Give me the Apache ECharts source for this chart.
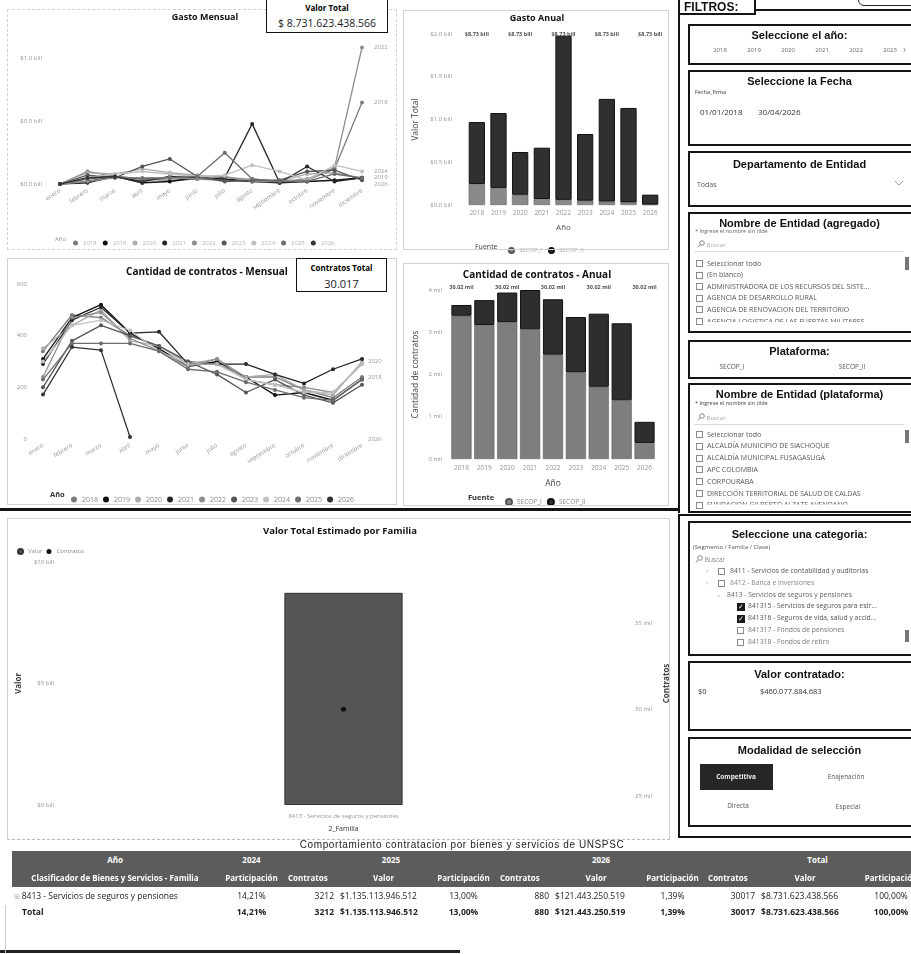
<!DOCTYPE html>
<html><head><meta charset="utf-8">
<script src="https://cdn.jsdelivr.net/npm/echarts@6/dist/echarts.min.js"></script>
<style>
html,body{margin:0;padding:0;background:#fff;}
#page{position:relative;width:911px;height:954px;overflow:hidden;font-family:"Open Sans","DejaVu Sans",sans-serif;background:#fff;}
#chart{position:absolute;left:0;top:0;width:911px;height:954px;}
.t{position:absolute;white-space:nowrap;line-height:1;}
.c{transform:translateX(-50%);}
.frame{position:absolute;border:1px solid #d2d2d2;box-sizing:border-box;}
.box{position:absolute;border:2px solid #151515;box-sizing:border-box;}
.ft{position:absolute;left:0;right:0;text-align:center;font-family:"Liberation Sans",Arial,sans-serif;font-weight:bold;font-size:11px;color:#111;white-space:nowrap;}
.li{position:absolute;font-size:7px;color:#555;white-space:nowrap;line-height:1;}
.cb{position:absolute;width:7px;height:7px;border:1px solid #8a8a8a;box-sizing:border-box;}
.cbk{position:absolute;width:8px;height:8px;background:#1a1a1a;color:#fff;font-size:7px;line-height:8px;text-align:center;}
.card{position:absolute;border:1.5px solid #111;box-sizing:border-box;background:#fff;text-align:center;}
table{border-collapse:collapse;table-layout:fixed;}
td,th{padding:0 3px;white-space:nowrap;overflow:hidden;}
th{background:#5c5c5c;color:#fff;font-weight:bold;font-size:8px;height:17px;}
td{font-size:8.5px;color:#222;height:16px;}
</style></head>
<body>
<div id="page">
<div id="chart"></div>
</div>
<script>
// ---------------- DATA ----------------
const MONTHS = ['enero','febrero','marzo','abril','mayo','junio','julio','agosto','septiembre','octubre','noviembre','diciembre'];
const YEARS = ['2018','2019','2020','2021','2022','2023','2024','2025','2026'];
const YEAR_COLORS = ['#7c7c7c','#111111','#acacac','#262626','#8e8e8e','#555555','#c0c0c0','#6d6d6d','#333333'];

// Gasto mensual (billones de pesos)
const GASTO_M_2018 = [0.00,0.10,0.06,0.04,0.03,0.04,0.03,0.02,0.02,0.03,0.12,0.65];
const GASTO_M_2019 = [0.00,0.01,0.06,0.01,0.02,0.05,0.04,0.02,0.01,0.02,0.03,0.05];
const GASTO_M_2020 = [0.00,0.09,0.08,0.12,0.09,0.07,0.05,0.04,0.02,0.08,0.09,0.04];
const GASTO_M_2021 = [0.00,0.02,0.06,0.02,0.06,0.05,0.05,0.48,0.01,0.14,0.02,0.05];
const GASTO_M_2022 = [0.00,0.02,0.05,0.05,0.05,0.04,0.06,0.02,0.02,0.04,0.13,1.09];
const GASTO_M_2023 = [0.00,0.07,0.05,0.14,0.20,0.06,0.02,0.03,0.03,0.10,0.11,0.03];
const GASTO_M_2024 = [0.00,0.05,0.08,0.10,0.08,0.06,0.07,0.15,0.10,0.03,0.15,0.10];
const GASTO_M_2025 = [0.00,0.04,0.06,0.04,0.05,0.06,0.25,0.04,0.02,0.02,0.08,0.05];
const GASTO_M_2026 = [0.00,0.05,0.06,0.01];
const GASTO_END_LABELS = ['2018','2019','2022','2024'];

// Cantidad de contratos mensual
const CONTRATOS_M_2018 = [340,480,470,400,360,300,290,240,240,190,160,240];
const CONTRATOS_M_2019 = [310,470,520,410,350,280,300,240,170,180,150,230];
const CONTRATOS_M_2020 = [350,440,500,380,360,290,310,240,250,190,170,300];
const CONTRATOS_M_2021 = [290,460,510,410,415,290,290,290,250,215,270,310];
const CONTRATOS_M_2022 = [240,470,490,390,340,280,310,230,210,200,180,290];
const CONTRATOS_M_2023 = [200,380,440,400,360,300,250,180,230,170,140,210];
const CONTRATOS_M_2024 = [300,440,460,420,340,290,290,230,210,180,180,290];
const CONTRATOS_M_2025 = [230,370,370,370,340,270,260,220,190,160,150,230];
const CONTRATOS_M_2026 = [172,356,344,8];
const CONTRATOS_END_LABELS = ['2018','2020'];

// Gasto anual por fuente (billones)
const FUENTES = ['SECOP_I','SECOP_II'];
const GASTO_ANUAL_SECOP_I  = [0.245,0.200,0.120,0.070,0.060,0.050,0.040,0.030,0.005];
const GASTO_ANUAL_SECOP_II = [0.725,0.875,0.500,0.600,1.920,0.780,1.201,1.105,0.116];
const GASTO_TOTAL_LABEL = '$8.73 bill';

// Contratos anual por fuente
const CONTRATOS_ANUAL_SECOP_I  = [3390,3170,3240,3070,2470,2050,1710,1390,380];
const CONTRATOS_ANUAL_SECOP_II = [255,590,700,930,1310,1310,1730,1822,500];
const CONTRATOS_TOTAL_LABEL = '30.02 mil';

// Valor total estimado por familia
const FAMILIAS = ['8413 - Servicios de seguros y pensiones'];
const FAMILIA_VALOR = [8.7316];       // billones
const FAMILIA_CONTRATOS = [30017];

// Tabla
const TABLE_ROW = ['8413 - Servicios de seguros y pensiones','14,21%','3212','$1.135.113.946.512','13,00%','880','$121.443.250.519','1,39%','30017','$8.731.623.438.566','100,00%'];
const TABLE_TOTAL = ['Total','14,21%','3212','$1.135.113.946.512','13,00%','880','$121.443.250.519','1,39%','30017','$8.731.623.438.566','100,00%'];

// ---------------- STATIC HTML ----------------
const page = document.getElementById('page');
function add(html){ page.insertAdjacentHTML('beforeend', html); }
const SEARCH = '<svg width="8" height="8" style="vertical-align:-1px"><circle cx="5" cy="3" r="2.3" fill="none" stroke="#777" stroke-width="0.9"/><line x1="3.3" y1="4.7" x2="0.8" y2="7.4" stroke="#777" stroke-width="0.9"/></svg>';

// chart frames
add('<div class="frame" style="left:7px;top:9px;width:390px;height:241px;border-style:dashed"></div>');
add('<div class="frame" style="left:403px;top:10px;width:266px;height:240px"></div>');
add('<div class="frame" style="left:7px;top:258px;width:390px;height:247px"></div>');
add('<div class="frame" style="left:403px;top:263px;width:266px;height:243px"></div>');
add('<div class="frame" style="left:7px;top:518px;width:663px;height:322px;border-bottom:1px dashed #bbb"></div>');
add('<div style="position:absolute;left:0;top:508px;width:680px;height:3px;background:#141414"></div>');
add('<div style="position:absolute;left:0;top:950px;width:460px;height:3px;background:#222"></div>');
add('<div style="position:absolute;left:5px;top:905px;width:1px;height:49px;background:#ccc"></div>');

// chart titles
add('<div class="t c" style="left:205px;top:12px;font-size:9px;font-weight:bold;color:#111">Gasto Mensual</div>');
add('<div class="t c" style="left:537px;top:13px;font-size:9px;font-weight:bold;color:#111">Gasto Anual</div>');
add('<div class="t c" style="left:207px;top:266px;font-size:10px;font-weight:bold;color:#111">Cantidad de contratos - Mensual</div>');
add('<div class="t c" style="left:537px;top:269px;font-size:10px;font-weight:bold;color:#111">Cantidad de contratos - Anual</div>');
add('<div class="t c" style="left:340px;top:526px;font-size:9.5px;font-weight:bold;color:#111">Valor Total Estimado por Familia</div>');

// cards
add('<div class="card" style="left:266px;top:-2px;width:122px;height:35px"><div style="font-size:8px;font-weight:bold;margin-top:3px">Valor Total</div><div style="font-size:10.5px;margin-top:3px;color:#222">$ 8.731.623.438.566</div></div>');
add('<div class="card" style="left:296px;top:258px;width:91px;height:34px"><div style="font-size:8px;font-weight:bold;margin-top:3px">Contratos Total</div><div style="font-size:11px;margin-top:3px;color:#222">30.017</div></div>');

// legend captions
add('<div class="t" style="left:55px;top:236px;font-size:6px;color:#999">Año</div>');
add('<div class="t" style="left:50px;top:491px;font-size:7.5px;font-weight:bold;color:#333">Año</div>');
add('<div class="t" style="left:475px;top:243px;font-size:7px;color:#444">Fuente</div>');
add('<div class="t" style="left:468px;top:494px;font-size:7.5px;font-weight:bold;color:#333">Fuente</div>');

// ----- filters panel -----
add('<div style="position:absolute;left:678px;top:-2px;width:78px;height:17px;border:2px solid #151515;box-sizing:border-box;background:#fff"></div>');
add('<div class="t" style="left:684px;top:1px;font-family:Liberation Sans,Arial;font-weight:bold;font-size:12px;color:#111">FILTROS:</div>');
add('<div style="position:absolute;left:756px;top:9px;width:160px;height:2px;background:#151515"></div>');
add('<div style="position:absolute;left:858px;top:-8px;width:60px;height:12px;border:1.5px solid #222;border-radius:6px"></div>');
add('<div style="position:absolute;left:678px;top:0;width:2px;height:513px;background:#151515"></div>');
add('<div style="position:absolute;left:678px;top:514px;width:240px;height:2px;background:#151515"></div>');
add('<div style="position:absolute;left:678px;top:514px;width:2px;height:324px;background:#151515"></div>');
add('<div style="position:absolute;left:678px;top:836px;width:240px;height:2px;background:#151515"></div>');

// box 1 year
add('<div class="box" style="left:688px;top:24px;width:230px;height:41px"><div class="ft" style="top:3px;right:7px">Seleccione el año:</div></div>');
['2018','2019','2020','2021','2022','2023'].forEach((y,i)=>add('<div class="t c" style="left:'+(720+i*34)+'px;top:47px;font-size:6px;color:#666">'+y+'</div>'));
add('<div class="t" style="left:903px;top:44px;font-size:10px;color:#888">›</div>');
// box 2 fecha
add('<div class="box" style="left:688px;top:70px;width:230px;height:76px"><div class="ft" style="top:3px;right:7px">Seleccione la Fecha</div></div>');
add('<div class="t" style="left:695px;top:90px;font-size:5.5px;color:#333">Fecha_firma</div>');
add('<div class="t" style="left:700px;top:108px;font-size:8px;color:#333">01/01/2018</div>');
add('<div class="t" style="left:758px;top:108px;font-size:8px;color:#333">30/04/2026</div>');
// box 3 departamento
add('<div class="box" style="left:688px;top:151px;width:230px;height:56px"><div class="ft" style="top:5px;right:7px">Departamento de Entidad</div></div>');
add('<div class="t" style="left:697px;top:181px;font-size:7px;color:#555">Todas</div>');
add('<svg style="position:absolute;left:894px;top:180px" width="10" height="6"><polyline points="1,1 5,5 9,1" fill="none" stroke="#999" stroke-width="1"/></svg>');
// box 4 entidad agregado
add('<div class="box" style="left:688px;top:212px;width:230px;height:121px"><div class="ft" style="top:3px;right:7px">Nombre de Entidad (agregado)</div></div>');
add('<div class="t" style="left:695px;top:229px;font-size:5.5px;color:#666">* Ingrese el nombre sin tilde</div>');
add('<div class="t" style="left:697px;top:240px;font-size:6px;color:#aaa">'+SEARCH+' Buscar</div>');
add('<div style="position:absolute;left:694px;top:251px;width:210px;height:1px;background:#ddd"></div>');
const ENT_AGR = ['Seleccionar todo','(En blanco)','ADMINISTRADORA DE LOS RECURSOS DEL SISTE...','AGENCIA DE DESARROLLO RURAL','AGENCIA DE RENOVACION DEL TERRITORIO','AGENCIA LOGISTICA DE LAS FUERZAS MILITARES'];
ENT_AGR.forEach((s,i)=>{const y=260+i*11.6; add('<div class="cb" style="left:696px;top:'+y+'px"></div><div class="li" style="left:707px;top:'+(y-0.5)+'px;'+(i==5?'clip-path:inset(0 0 35% 0)':'')+'">'+s+'</div>');});
add('<div style="position:absolute;left:905px;top:257px;width:4px;height:13px;background:#777"></div>');
// box 5 plataforma
add('<div class="box" style="left:688px;top:340px;width:230px;height:39px"><div class="ft" style="top:3px;right:7px">Plataforma:</div></div>');
add('<div class="t c" style="left:732px;top:364px;font-size:6.5px;color:#555">SECOP_I</div>');
add('<div class="t c" style="left:852px;top:364px;font-size:6.5px;color:#555">SECOP_II</div>');
// box 6 entidad plataforma
add('<div class="box" style="left:688px;top:383px;width:230px;height:130px"><div class="ft" style="top:3px;right:7px">Nombre de Entidad (plataforma)</div></div>');
add('<div class="t" style="left:695px;top:401px;font-size:5.5px;color:#444">* Ingrese el nombre sin tilde</div>');
add('<div class="t" style="left:697px;top:413px;font-size:6px;color:#aaa">'+SEARCH+' Buscar</div>');
add('<div style="position:absolute;left:694px;top:424px;width:210px;height:1px;background:#ddd"></div>');
const ENT_PLAT = ['Seleccionar todo','ALCALDÍA MUNICIPIO DE SIACHOQUE','ALCALDÍA MUNICIPAL FUSAGASUGÁ','APC COLOMBIA','CORPOURABA','DIRECCIÓN TERRITORIAL DE SALUD DE CALDAS','FUNDACIÓN GILBERTO ALZATE AVENDAÑO'];
ENT_PLAT.forEach((s,i)=>{const y=431+i*11.8; add('<div class="cb" style="left:696px;top:'+y+'px"></div><div class="li" style="left:707px;top:'+(y-0.5)+'px;'+(i==6?'clip-path:inset(0 0 55% 0)':'')+'">'+s+'</div>');});
add('<div style="position:absolute;left:905px;top:430px;width:4px;height:13px;background:#777"></div>');

// box 7 categoria
add('<div class="box" style="left:688px;top:521px;width:230px;height:135px"><div class="ft" style="top:5px;right:7px">Seleccione una categoria:</div></div>');
add('<div class="t" style="left:693px;top:544px;font-size:6px;color:#555">(Segmento / Familia / Clase)</div>');
add('<div class="t" style="left:695px;top:555px;font-size:6.5px;color:#888">'+SEARCH+' Buscar</div>');
const CAT_ITEMS = [
 {t:'8411 - Servicios de contabilidad y auditorias',arrow:706,cb:718,x:730,st:0,col:'#555'},
 {t:'8412 - Banca e inversiones',arrow:706,cb:718,x:730,st:0,col:'#888'},
 {t:'8413 - Servicios de seguros y pensiones',arrow:716,cb:null,x:727,st:0,col:'#666'},
 {t:'841315 - Servicios de seguros para estr...',arrow:null,cb:737,x:748,st:1,col:'#555'},
 {t:'841316 - Seguros de vida, salud y accid...',arrow:null,cb:737,x:748,st:1,col:'#555'},
 {t:'841317 - Fondos de pensiones',arrow:null,cb:737,x:748,st:0,col:'#777'},
 {t:'841318 - Fondos de retiro',arrow:null,cb:737,x:748,st:0,col:'#777'}];
CAT_ITEMS.forEach((it,i)=>{const y=568+i*11.8;
  if(it.arrow) add('<div class="t" style="left:'+it.arrow+'px;top:'+(y-1)+'px;font-size:7px;color:#aaa">'+(i==2?'⌄':'›')+'</div>');
  if(it.cb) add(it.st?'<div class="cbk" style="left:'+it.cb+'px;top:'+y+'px">✓</div>':'<div class="cb" style="left:'+it.cb+'px;top:'+y+'px"></div>');
  add('<div class="li" style="left:'+it.x+'px;top:'+y+'px;font-size:6.8px;color:'+it.col+'">'+it.t+'</div>');});
add('<div style="position:absolute;left:905px;top:630px;width:4px;height:12px;background:#777"></div>');
// box 8 valor contratado
add('<div class="box" style="left:688px;top:661px;width:230px;height:70px"><div class="ft" style="top:5px;right:7px">Valor contratado:</div></div>');
add('<div class="t" style="left:698px;top:688px;font-size:7.5px;color:#333">$0</div>');
add('<div class="t" style="left:760px;top:688px;font-size:7.5px;color:#333">$460.077.884.683</div>');
// box 9 modalidad
add('<div class="box" style="left:688px;top:737px;width:230px;height:90px"><div class="ft" style="top:5px;right:7px">Modalidad de selección</div></div>');
add('<div style="position:absolute;left:700px;top:764px;width:73px;height:26px;background:#262626"></div>');
add('<div class="t c" style="left:736px;top:774px;font-size:6.5px;color:#eee;font-weight:bold">Competitiva</div>');
add('<div class="t c" style="left:846px;top:774px;font-size:6.5px;color:#555">Enajenación</div>');
add('<div class="t c" style="left:738px;top:803px;font-size:6.5px;color:#555">Directa</div>');
add('<div class="t c" style="left:848px;top:804px;font-size:6.5px;color:#555">Especial</div>');

// table
add('<div class="t c" style="left:462px;top:840px;font-family:Liberation Sans,Arial;font-size:10px;letter-spacing:0.6px;color:#222">Comportamiento contratacion por bienes y servicios de UNSPSC</div>');
const COLW = [206,67,52,93,67,55,88,65,53,94,78];
let tbl = '<table style="position:absolute;left:12px;top:851px;width:'+COLW.reduce((a,b)=>a+b,0)+'px"><colgroup>'+COLW.map(w=>'<col style="width:'+w+'px">').join('')+'</colgroup>';
tbl += '<tr><th style="text-align:center">Año</th><th style="text-align:center">2024</th><th colspan="3" style="text-align:center">2025</th><th colspan="3" style="text-align:center">2026</th><th colspan="3" style="text-align:center">Total</th></tr>';
const HDR2 = ['Clasificador de Bienes y Servicios - Familia','Participación','Contratos','Valor','Participación','Contratos','Valor','Participación','Contratos','Valor','Participación'];
tbl += '<tr>'+HDR2.map((h,i)=>'<th style="height:19px;text-align:'+(i==2||i==5||i==8?'left':'center')+'">'+h+'</th>').join('')+'</tr>';
const align = i => (i==0?'left':(i==2||i==5||i==8?'right':(i==1||i==4||i==7||i==10?'center':'left')));
tbl += '<tr>'+TABLE_ROW.map((v,i)=>'<td style="text-align:'+align(i)+(i==0?';padding-left:2px':'')+'">'+(i==0?'<span style="color:#aaa;font-size:7px">⊞ </span>':'')+v+'</td>').join('')+'</tr>';
tbl += '<tr>'+TABLE_TOTAL.map((v,i)=>'<td style="font-weight:bold;text-align:'+align(i)+(i==0?';padding-left:10px':'')+'">'+v+'</td>').join('')+'</tr>';
tbl += '</table>';
add(tbl);

// ---------------- CHARTS ----------------
const chart = echarts.init(document.getElementById('chart'));
const FF = 'Open Sans';
const AXL = {fontFamily:FF, color:'#959595', fontSize:6};
const GASTO_M = [GASTO_M_2018,GASTO_M_2019,GASTO_M_2020,GASTO_M_2021,GASTO_M_2022,GASTO_M_2023,GASTO_M_2024,GASTO_M_2025,GASTO_M_2026];
const CONTRATOS_M = [CONTRATOS_M_2018,CONTRATOS_M_2019,CONTRATOS_M_2020,CONTRATOS_M_2021,CONTRATOS_M_2022,CONTRATOS_M_2023,CONTRATOS_M_2024,CONTRATOS_M_2025,CONTRATOS_M_2026];
const LAST_MONTH = MONTHS[MONTHS.length-1];

function monthlySeries(arrs, gi, endLabels, dist){
  return YEARS.map((y,i)=>{
    const s = {name:y, type:'line', xAxisIndex:gi, yAxisIndex:gi, data:arrs[i],
      symbol:'circle', symbolSize:4, color:YEAR_COLORS[i], lineStyle:{width:1.3},
      endLabel:{show:endLabels.includes(y), formatter:'{a}', fontFamily:FF, fontSize:6, color:'#9a9a9a', distance:dist}};
    if (arrs[i].length < MONTHS.length) {
      s.markPoint = {symbol:'circle', symbolSize:0, silent:true,
        data:[{coord:[LAST_MONTH,0], label:{show:true, formatter:y, position:'right', distance:dist, fontFamily:FF, fontSize:6, color:'#9a9a9a'}}]};
    }
    return s;
  });
}
const noAxisLine = {axisLine:{show:false}, axisTick:{show:false}, splitLine:{show:false}};

const option = {
  animation:false,
  textStyle:{fontFamily:FF},
  grid:[
    {left:60, top:40, width:302, height:144},
    {left:466, top:34, width:195, height:171},
    {left:43, top:284, width:319, height:155},
    {left:450, top:290, width:206, height:169},
    {left:62, top:562, width:563, height:243}
  ],
  xAxis:[
    Object.assign({gridIndex:0, type:'category', data:MONTHS, boundaryGap:false, axisLabel:Object.assign({rotate:35, interval:0, margin:6}, AXL)}, noAxisLine),
    Object.assign({gridIndex:1, type:'category', data:YEARS, axisLabel:Object.assign({interval:0, margin:5}, AXL, {fontSize:6.5}),
      name:'Año', nameLocation:'middle', nameGap:19, nameTextStyle:{fontSize:8, color:'#555', fontFamily:FF}}, noAxisLine),
    Object.assign({gridIndex:2, type:'category', data:MONTHS, boundaryGap:false, axisLabel:Object.assign({rotate:32, interval:0, margin:6}, AXL)}, noAxisLine),
    Object.assign({gridIndex:3, type:'category', data:YEARS, axisLabel:Object.assign({interval:0, margin:6}, AXL, {fontSize:6.5}),
      name:'Año', nameLocation:'middle', nameGap:20, nameTextStyle:{fontSize:8.5, color:'#444', fontFamily:FF}}, noAxisLine),
    Object.assign({gridIndex:4, type:'category', data:FAMILIAS, axisLabel:Object.assign({margin:8}, AXL),
      name:'2_Familia', nameLocation:'middle', nameGap:20, nameTextStyle:{fontSize:7, color:'#333', fontFamily:FF}}, noAxisLine)
  ],
  yAxis:[
    Object.assign({gridIndex:0, type:'value', min:0, max:1.15, interval:0.5,
      axisLabel:Object.assign({formatter:v=>'$'+v.toFixed(1)+' bill', showMaxLabel:false, margin:18}, AXL)}, noAxisLine),
    Object.assign({gridIndex:1, type:'value', min:0, max:2, interval:0.5,
      axisLabel:Object.assign({formatter:v=>'$'+v.toFixed(1)+' bill', margin:14}, AXL),
      name:'Valor Total', nameLocation:'middle', nameGap:46, nameTextStyle:{fontSize:8.5, color:'#444', fontFamily:FF}}, noAxisLine),
    Object.assign({gridIndex:2, type:'value', min:0, max:600, interval:200,
      axisLabel:Object.assign({margin:16}, AXL)}, noAxisLine),
    Object.assign({gridIndex:3, type:'value', min:0, max:4000, interval:1000,
      axisLabel:Object.assign({formatter:v=>(v/1000)+' mil', margin:8}, AXL),
      name:'Cantidad de contratos', nameLocation:'middle', nameGap:30, nameTextStyle:{fontSize:8.5, color:'#444', fontFamily:FF}}, noAxisLine),
    Object.assign({gridIndex:4, type:'value', min:0, max:10, interval:5,
      axisLabel:Object.assign({formatter:v=>'$'+v+' bill', margin:8}, AXL),
      name:'Valor', nameLocation:'middle', nameGap:38, nameTextStyle:{fontSize:8, fontWeight:'bold', color:'#444', fontFamily:FF}}, noAxisLine),
    Object.assign({gridIndex:4, type:'value', position:'right', min:24480, max:38520, minInterval:5000, maxInterval:5000,
      axisLabel:Object.assign({formatter:v=>(v/1000)+' mil', showMinLabel:false, showMaxLabel:false, margin:10}, AXL),
      name:'Contratos', nameLocation:'middle', nameGap:34, nameTextStyle:{fontSize:8, fontWeight:'bold', color:'#444', fontFamily:FF}}, noAxisLine)
  ],
  legend:[
    {data:YEARS, left:68, top:235, icon:'circle', itemWidth:5, itemHeight:5, itemGap:6, textStyle:{fontSize:6, color:'#b5b5b5', fontFamily:FF}},
    {data:YEARS, left:66, top:491, icon:'circle', itemWidth:6, itemHeight:6, itemGap:5, textStyle:{fontSize:7, color:'#888', fontFamily:FF}},
    {data:FUENTES, left:503, top:242, icon:'circle', itemWidth:5, itemHeight:5, itemGap:6, textStyle:{fontSize:6, color:'#aaa', fontFamily:FF}},
    {data:FUENTES, left:500, top:493, icon:'circle', itemWidth:6, itemHeight:6, itemGap:5, textStyle:{fontSize:6.5, color:'#888', fontFamily:FF}},
    {data:['Valor','Contratos'], left:12, top:543, icon:'circle', itemWidth:5, itemHeight:5, itemGap:4, textStyle:{fontSize:6, color:'#888', fontFamily:FF}}
  ],
  series:[
    ...monthlySeries(GASTO_M, 0, GASTO_END_LABELS, 12),
    ...monthlySeries(CONTRATOS_M, 2, CONTRATOS_END_LABELS, 6),
    {name:'SECOP_I', type:'bar', stack:'ga', xAxisIndex:1, yAxisIndex:1, data:GASTO_ANUAL_SECOP_I, barWidth:'75%', color:'#8a8a8a', itemStyle:{borderColor:'#555', borderWidth:0.5}},
    {name:'SECOP_II', type:'bar', stack:'ga', xAxisIndex:1, yAxisIndex:1, data:GASTO_ANUAL_SECOP_II, barWidth:'75%', color:'#303030', itemStyle:{borderColor:'#111', borderWidth:1}},
    {type:'scatter', xAxisIndex:1, yAxisIndex:1, data:YEARS.map(()=>2), symbolSize:0, silent:true, z:1,
      label:{show:true, position:'inside', formatter:GASTO_TOTAL_LABEL, fontSize:5.5, fontWeight:'bold', color:'#222', fontFamily:FF}, labelLayout:{hideOverlap:true}},
    {name:'SECOP_I', type:'bar', stack:'ca', xAxisIndex:3, yAxisIndex:3, data:CONTRATOS_ANUAL_SECOP_I, barWidth:'88%', color:'#7e7e7e', itemStyle:{borderColor:'#555', borderWidth:0.5}},
    {name:'SECOP_II', type:'bar', stack:'ca', xAxisIndex:3, yAxisIndex:3, data:CONTRATOS_ANUAL_SECOP_II, barWidth:'88%', color:'#2e2e2e', itemStyle:{borderColor:'#111', borderWidth:1}},
    {type:'scatter', xAxisIndex:3, yAxisIndex:3, data:YEARS.map(()=>4000), symbolSize:0, silent:true, z:1,
      label:{show:true, position:'top', distance:0, formatter:CONTRATOS_TOTAL_LABEL, fontSize:5.5, fontWeight:'bold', color:'#222', fontFamily:FF}, labelLayout:{hideOverlap:true}},
    {name:'Valor', type:'bar', xAxisIndex:4, yAxisIndex:4, data:FAMILIA_VALOR, barWidth:'21%', color:'#555555', itemStyle:{borderColor:'#333', borderWidth:1}},
    {name:'Contratos', type:'line', xAxisIndex:4, yAxisIndex:5, data:FAMILIA_CONTRATOS, symbol:'circle', symbolSize:5, color:'#111', z:5}
  ]
};
chart.setOption(option);
</script>
</body></html>
